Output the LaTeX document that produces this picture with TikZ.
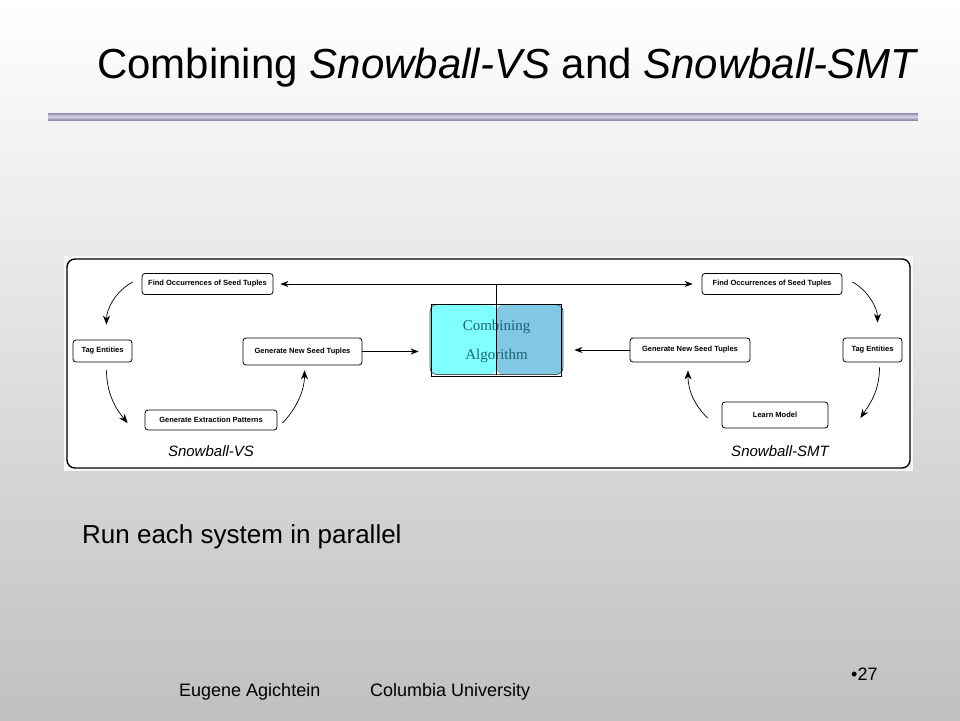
\documentclass[tikz,border=0pt]{standalone}
\usepackage{fontspec}
\setmainfont{Liberation Sans}
\newfontfamily\combfont{Liberation Serif}
\usetikzlibrary{arrows.meta, calc, positioning}
\definecolor{slidegray}{HTML}{C0C0C0}
\definecolor{rulemid}{HTML}{D6D6E6}
\definecolor{ruleedge}{HTML}{8E8EAE}
\definecolor{combleft}{HTML}{80FFFF}
\definecolor{combright}{HTML}{80C8E4}
\definecolor{combtext}{HTML}{1A6675}
\tikzset{
  stepbox/.style={
    rectangle, rounded corners=3pt, draw=black, line width=0.8pt, fill=white,
    inner sep=0pt, font=\fontsize{7.5}{8}\selectfont\bfseries
  },
  combo/.style={
    rectangle, rounded corners=7pt, draw=black!65, line width=0.8pt,
    minimum width=133pt, minimum height=70pt, inner sep=0pt, align=center,
    text=combtext, font=\combfont\fontsize{15}{29}\selectfont,
    path picture={
      \fill[combleft] (path picture bounding box.south west) rectangle (path picture bounding box.north);
      \fill[combright] (path picture bounding box.south) rectangle (path picture bounding box.north east);
    }
  },
  slidetext/.style={anchor=base west, inner sep=0pt},
  sysname/.style={font=\fontsize{15}{18}\selectfont\itshape},
  arrow/.style={-{Stealth[length=8pt,width=6pt]}, line width=0.7pt},
  cyclearrow/.style={-{Stealth[length=9pt,width=7pt]}, line width=0.7pt}
}

\begin{document}
\begin{tikzpicture}[x=1pt, y=-1pt]
\useasboundingbox (0,0) rectangle (960,720);
\shade[top color=white, bottom color=slidegray] (0,0) rectangle (960,720);
\node[slidetext, font=\fontsize{42}{50}\selectfont] (title) at (97,78) {Combining \textit{Snowball-VS} and \textit{Snowball-SMT}};
\shade[top color=ruleedge, bottom color=ruleedge, middle color=rulemid] (48,113) rectangle (918,120);

\fill[white!94!gray] (64,256) rectangle (913,471);
\draw[line width=1.4pt, rounded corners=8pt, fill=white] (67,259) rectangle (910,468);

\node[stepbox, minimum width=131pt, minimum height=21pt] (findvs) at (207.5,284) {Find Occurrences of Seed Tuples};
\node[stepbox, minimum width=59pt, minimum height=22pt] (tagvs) at (102.5,351) {Tag Entities};
\node[stepbox, minimum width=119pt, minimum height=27pt] (genvs) at (302.5,351.5) {Generate New Seed Tuples};
\node[stepbox, minimum width=132pt, minimum height=20pt] (patvs) at (211,420) {Generate Extraction Patterns};
\node[sysname] (namevs) at (211,451) {Snowball-VS};

\node[stepbox, minimum width=140pt, minimum height=21pt] (findsmt) at (772,284) {Find Occurrences of Seed Tuples};
\node[stepbox, minimum width=59pt, minimum height=24pt] (tagsmt) at (872.5,350) {Tag Entities};
\node[stepbox, minimum width=120pt, minimum height=24pt] (gensmt) at (690,350) {Generate New Seed Tuples};
\node[stepbox, minimum width=106pt, minimum height=26pt] (learnsmt) at (775,415) {Learn Model};
\node[sysname] (namesmt) at (780,451) {Snowball-SMT};

\node[combo, text depth=-6pt] (comb) at (496.5,339.5) {Combining\\Algorithm};
\draw[line width=0.6pt] ($(comb.north west)+(2,0)$) rectangle ($(comb.south east)+(-2,1.5)$);
\draw[line width=0.6pt] (comb.north) -- (comb.south);

\draw[arrow, shorten >=7pt] (comb.north) |- (findvs.east);
\draw[arrow, shorten >=9pt] (comb.north) |- (findsmt.west);
\draw[arrow, shorten >=11pt] (genvs.east) -- (genvs.east -| comb.west);
\draw[arrow, shorten >=11pt] (gensmt.west) -- (gensmt.west -| comb.east);

\draw[cyclearrow] ($(findvs.west)+(-9,-2)$) .. controls +(-18,10) and +(0,-15) .. ($(tagvs.north)+(4,-15)$);
\draw[cyclearrow] ($(tagvs.south)+(4,8)$) .. controls +(0,25) and +(-10,-12) .. ($(patvs.west)+(-17,3)$);
\draw[cyclearrow] ($(patvs.east)+(5,3)$) .. controls +(12,-12) and +(0,22) .. ($(genvs.south)+(2,5)$);

\draw[cyclearrow] ($(findsmt.east)+(10,-2)$) .. controls +(15,8) and +(0,-15) .. ($(tagsmt.north)+(5,-15)$);
\draw[cyclearrow] ($(tagsmt.south)+(7,5)$) .. controls +(0,25) and +(8,-12) .. ($(learnsmt.east)+(32,3)$);
\draw[cyclearrow] ($(learnsmt.west)+(-14,3)$) .. controls +(-12,-12) and +(0,22) .. ($(gensmt.south)+(-2,8)$);

\node[slidetext, font=\fontsize{26}{30}\selectfont] (note) at (82,543) {Run each system in parallel};
\node[slidetext, font=\fontsize{18}{20}\selectfont] (author) at (179,696) {Eugene Agichtein};
\node[slidetext, font=\fontsize{18}{20}\selectfont] (univ) at (370,696) {Columbia University};
\node[slidetext, font=\fontsize{18}{20}\selectfont] (page) at (851,680) {\textbullet 27};
\end{tikzpicture}
\end{document}
